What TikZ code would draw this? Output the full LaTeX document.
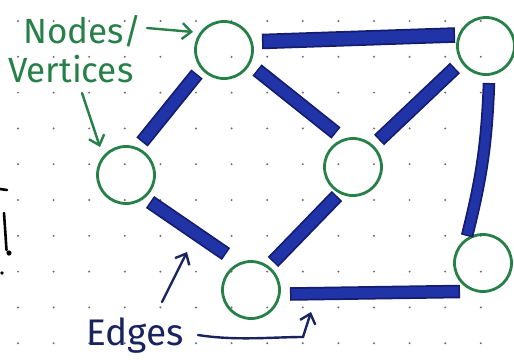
\documentclass[tikz,border=0pt]{standalone}
\usepackage{fontspec}
\setmainfont{Fira Sans}
\usetikzlibrary{arrows.meta,calc}
\definecolor{pengreen}{RGB}{38,128,72}
\definecolor{edgeblue}{RGB}{32,52,168}
\definecolor{edgedark}{RGB}{20,28,110}
\definecolor{inknavy}{RGB}{25,35,95}
\definecolor{dotgray}{RGB}{110,110,110}
\begin{document}
\begin{tikzpicture}[x=1pt,y=-1pt,
  vtx/.style={circle, draw=pengreen, line width=2.8pt, minimum size=57pt, inner sep=0pt},
  edgestroke/.style={draw=edgeblue, line width=#1, shorten <=1.5pt, shorten >=1.5pt,
     preaction={draw=edgedark, line width=#1+3.5pt, shorten <=0pt, shorten >=0pt}},
  edgestroke/.default=11pt,
  gtext/.style={text=pengreen, font=\fontsize{35}{40}\selectfont, inner sep=0pt, anchor=base west},
  btext/.style={text=inknavy, font=\fontsize{37}{42}\selectfont, inner sep=0pt, anchor=base west},
  garrow/.style={draw=pengreen, line width=2.4pt, line cap=round, -{Straight Barb[length=9pt,width=16pt,line width=2.4pt]}},
  barrow/.style={draw=inknavy, line width=2.4pt, line cap=round, -{Straight Barb[length=9pt,width=16pt,line width=2.4pt]}},
  pen/.style={draw=black, line width=2.6pt, line cap=round}
]
\useasboundingbox (0,0) rectangle (514,359);
\fill[white] (0,0) rectangle (514,359);
% dot grid
\foreach \i in {0,...,13}
  \foreach \j in {0,...,9}
    \fill[dotgray] ({18+35.6*\i},{21+35.8*\j}) circle (1.1pt);
% vertices
\node[vtx] (A) at (224,50) {};
\node[vtx] (B) at (126,175) {};
\node[vtx] (C) at (353,167) {};
\node[vtx] (D) at (486,46) {};
\node[vtx] (E) at (483,263) {};
\node[vtx] (F) at (251,290) {};
% edges
\draw[edgestroke=12pt] ($(A)+(38,-8.5)$) -- ($(D)+(-31,-11)$);
\draw[edgestroke] ($(A)+(-27,24)$) -- ($(B)+(16,-33)$);
\draw[edgestroke] ($(A)+(33,20)$) -- ($(C)+(-17,-34)$);
\draw[edgestroke] ($(C)+(26,-27)$) -- ($(D)+(-31,22)$);
\draw[edgestroke=9pt] ($(D)+(3,37)$) to[bend left=6] ($(E)+(-16,-27)$);
\draw[edgestroke] ($(B)+(24,27)$) -- ($(F)+(-25,-36)$);
\draw[edgestroke] ($(C)+(-16,29)$) -- ($(F)+(22,-28)$);
\draw[edgestroke=10pt] ($(F)+(39,4)$) -- ($(E)+(-23,28.5)$);
% labels
\node[gtext] (nodestxt) at (23,43) {Nodes/};
\node[gtext] (vertstxt) at (8,82) {Vertices};
\node[btext] (edgestxt) at (86,345) {Edges};
% label arrows
\draw[garrow] ($(nodestxt.base west)+(124,-15)$) -- ($(A)+(-31,-18)$);
\draw[garrow] ($(vertstxt.base west)+(74,11)$) .. controls ($(vertstxt.base west)+(82,35)$) .. ($(B)+(-26,-28)$);
\draw[barrow] ($(edgestxt.base west)+(76,-43)$) -- ($(F)+(-64,-38)$);
\coordinate (turn) at ($(F)+(52,47)$);
\draw[barrow] ($(edgestxt.base west)+(112,-10)$) .. controls ($(edgestxt.base west)+(150,-4)$) and ($(turn)+(-30,0)$) .. (turn) -- ($(F)+(60,22)$);
% marks at the left edge
\draw[pen] (0,189) -- (7,190);
\draw[pen] (4,213) -- (6.5,250);
\fill (9,253) circle (2.6pt);
\fill (2,273) circle (1.8pt);
\end{tikzpicture}
\end{document}
